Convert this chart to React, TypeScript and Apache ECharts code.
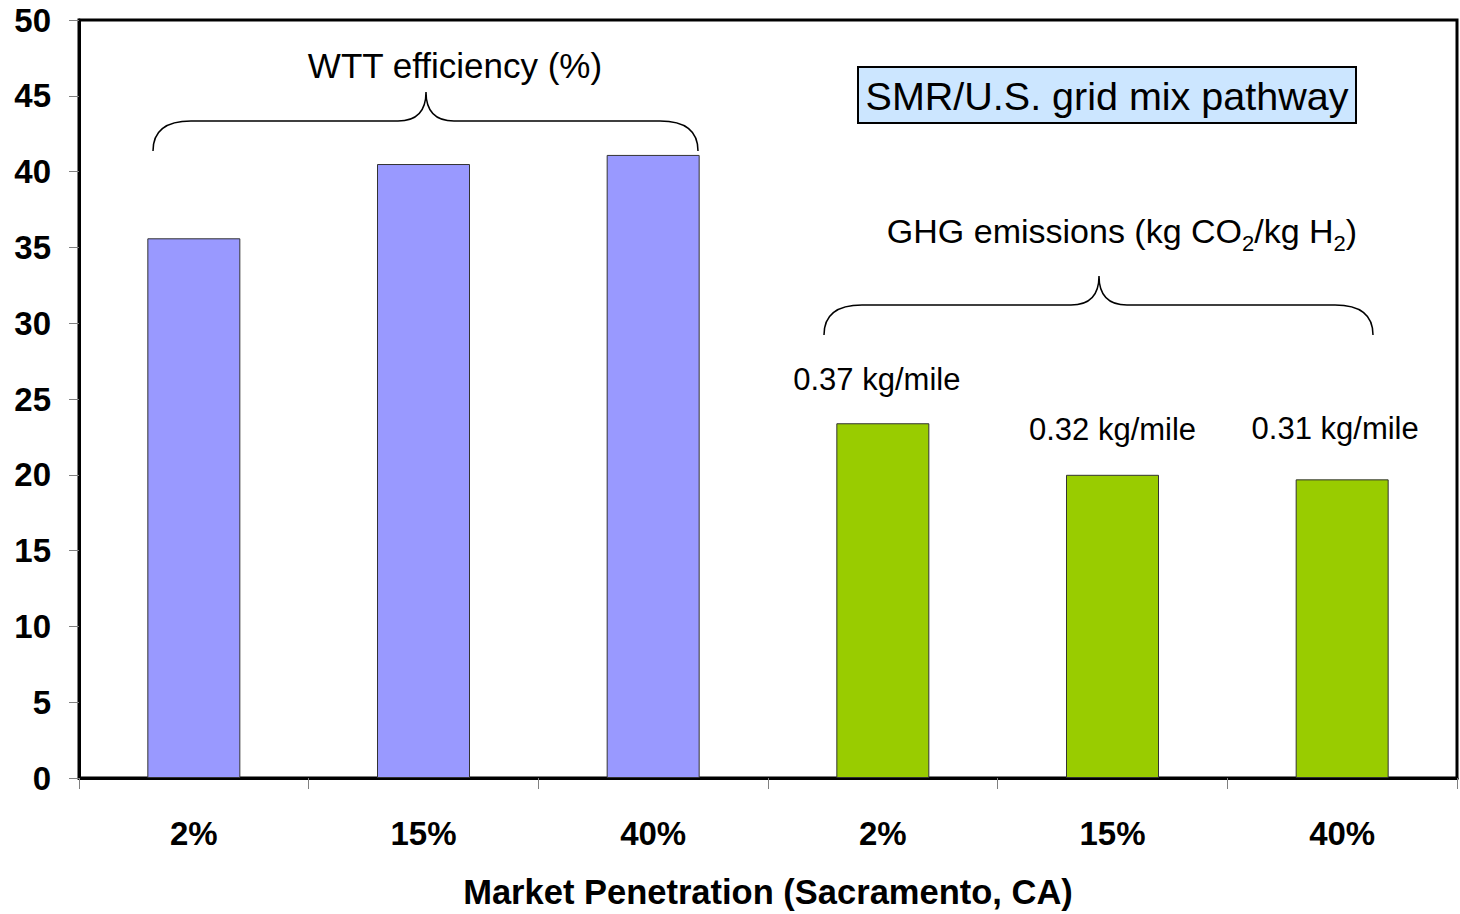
import React, { useEffect, useRef } from "react";
import * as echarts from "echarts";

const penetration = ["2%", "15%", "40%"];
const wttEfficiency = [35.6, 40.5, 41.1];
const ghgEmissions = [23.4, 20.0, 19.7];
const ghgPerMile = ["0.37 kg/mile", "0.32 kg/mile", "0.31 kg/mile"];
const yTicks = [0, 5, 10, 15, 20, 25, 30, 35, 40, 45, 50];

const FONT = "Liberation Sans, Arial, sans-serif";

function bracePath(x1: number, x2: number, xt: number, yE: number, yH: number, yT: number) {
  const r = 38;
  const r2 = 28;
  return (
    `M${x1},${yE} Q${x1},${yH} ${x1 + r},${yH} L${xt - r2},${yH} Q${xt},${yH} ${xt},${yT} ` +
    `Q${xt},${yH} ${xt + r2},${yH} L${x2 - r},${yH} Q${x2},${yH} ${x2},${yE}`
  );
}

let registered = false;
function registerShapes() {
  if (registered) return;
  registered = true;
  echarts.graphic.registerShape("braceWtt", echarts.graphic.extendPath(bracePath(153, 698, 426, 151, 121, 92), {}));
  echarts.graphic.registerShape("braceGhg", echarts.graphic.extendPath(bracePath(824, 1373, 1099, 335, 305, 276), {}));
}

export default function App() {
  const ref = useRef<HTMLDivElement>(null);
  useEffect(() => {
    if (!ref.current) return;
    registerShapes();
    const chart = echarts.init(ref.current, undefined, { renderer: "svg" });
    const categories = [
      ...penetration.map((p) => "WTT|" + p),
      ...penetration.map((p) => "GHG|" + p),
    ];
    const labelTweaks = [
      { distance: 28, offset: [-6, 0] },
      { distance: 30, offset: [0, 0] },
      { distance: 35, offset: [-7, 0] },
    ];
    const data = [
      ...wttEfficiency.map((v) => ({ value: v, itemStyle: { color: "#9999ff" } })),
      ...ghgEmissions.map((v, i) => ({
        value: v,
        itemStyle: { color: "#99cc00" },
        label: {
          show: true,
          position: "top",
          formatter: ghgPerMile[i],
          distance: labelTweaks[i].distance,
          offset: labelTweaks[i].offset,
          color: "#000",
          fontFamily: FONT,
          fontSize: 31,
        },
      })),
    ];
    chart.setOption({
      animation: false,
      backgroundColor: "#fff",
      grid: {
        left: 79,
        right: 3,
        top: 20,
        bottom: 132,
        show: true,
        borderColor: "#000",
        borderWidth: 3,
        containLabel: false,
      },
      xAxis: {
        type: "category",
        data: categories,
        boundaryGap: true,
        axisLine: { show: true, lineStyle: { color: "#000", width: 3 } },
        axisTick: { show: true, length: 11, lineStyle: { color: "#808080", width: 1 } },
        axisLabel: {
          formatter: (v: string) => v.split("|")[1],
          fontFamily: FONT,
          fontSize: 33,
          fontWeight: "bold",
          color: "#000",
          margin: 39,
        },
        name: "Market Penetration (Sacramento, CA)",
        nameLocation: "middle",
        nameGap: 96,
        nameTextStyle: { fontFamily: FONT, fontSize: 34.5, fontWeight: "bold", color: "#000" },
      },
      yAxis: {
        type: "value",
        min: 0,
        max: 50,
        interval: 5,
        axisLine: { show: true, lineStyle: { color: "#000", width: 3 } },
        axisTick: { show: true, length: 10, lineStyle: { color: "#808080", width: 1 } },
        splitLine: { show: false },
        axisLabel: {
          formatter: (v: number) => (yTicks.includes(v) ? String(v) : ""),
          fontFamily: FONT,
          fontSize: 33,
          fontWeight: "bold",
          color: "#000",
          margin: 28,
        },
      },
      series: [
        {
          type: "bar",
          data,
          barWidth: 93,
          itemStyle: { borderColor: "#333", borderWidth: 1 },
        },
      ],
      graphic: [
        { type: "braceWtt", style: { stroke: "#000", lineWidth: 1.5, fill: null } },
        { type: "braceGhg", style: { stroke: "#000", lineWidth: 1.5, fill: null } },
        {
          type: "text",
          x: 455,
          y: 65,
          style: {
            text: "WTT efficiency (%)",
            fontFamily: FONT,
            fontSize: 35,
            fill: "#000",
            align: "center",
            verticalAlign: "middle",
          },
        },
        {
          type: "text",
          x: 1122,
          y: 231,
          style: {
            text: "{m|GHG emissions (kg CO}{s|2}{m|/kg H}{s|2}{m|)}",
            align: "center",
            verticalAlign: "middle",
            rich: {
              m: { fontFamily: FONT, fontSize: 34, fill: "#000", lineHeight: 46, verticalAlign: "middle" },
              s: { fontFamily: FONT, fontSize: 22, fill: "#000", lineHeight: 46, verticalAlign: "bottom" },
            },
          },
        },
        {
          type: "rect",
          shape: { x: 858, y: 67, width: 498, height: 56 },
          style: { fill: "#cce6ff", stroke: "#000", lineWidth: 2 },
        },
        {
          type: "text",
          x: 1107,
          y: 96,
          style: {
            text: "SMR/U.S. grid mix pathway",
            fontFamily: FONT,
            fontSize: 39.5,
            fill: "#000",
            align: "center",
            verticalAlign: "middle",
          },
        },
      ],
    });
    return () => chart.dispose();
  }, []);
  return (
    <div
      ref={ref}
      style={{ position: "absolute", left: 0, top: 0, width: 1460, height: 914 }}
    />
  );
}
